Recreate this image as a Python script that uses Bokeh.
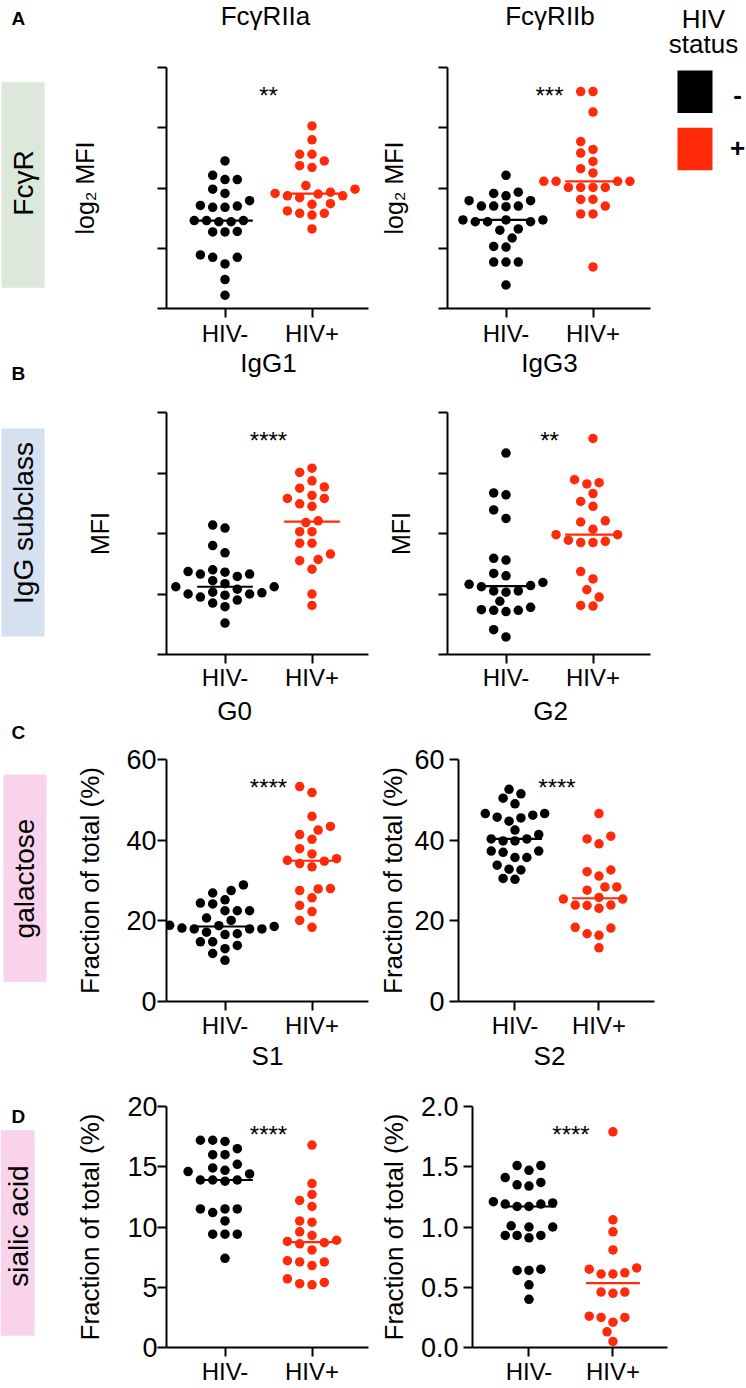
import numpy as np
from bokeh.plotting import figure
from bokeh.models import Range1d, FixedTicker, NumeralTickFormatter
from bokeh.layouts import row, column
from bokeh.embed import file_html
from bokeh.resources import INLINE
from bokeh.core.properties import value

FONT = "Liberation Sans"
GROUPS = ["HIV-", "HIV+"]
GROUP_COLORS = ["#000000", "#ff2a0a"]

# ---------------- data ----------------
fcgr2a_neg = [2.45, 2.21, 2.14, 2.14, 1.98, 1.91, 1.79, 1.71, 1.70, 1.68, 1.68, 1.46, 1.46,
              1.46, 1.44, 1.44, 1.28, 1.27, 1.27, 0.89, 0.85, 0.85, 0.74, 0.48, 0.22]
fcgr2a_pos = [3.03, 2.80, 2.56, 2.56, 2.45, 2.37, 2.34, 2.04, 1.98, 1.93, 1.91, 1.90, 1.87,
              1.87, 1.84, 1.74, 1.73, 1.62, 1.58, 1.58, 1.55, 1.32]
fcgr2b_neg = [2.21, 1.93, 1.91, 1.87, 1.79, 1.79, 1.70, 1.70, 1.70, 1.69, 1.47, 1.47, 1.47,
              1.44, 1.44, 1.44, 1.32, 1.30, 1.17, 1.03, 1.02, 0.77, 0.77, 0.77, 0.39]
fcgr2b_pos = [3.60, 3.60, 3.26, 2.77, 2.64, 2.58, 2.44, 2.32, 2.25, 2.11, 2.11, 2.11, 2.11,
              2.01, 2.01, 2.01, 2.01, 1.81, 1.81, 1.70, 1.57, 1.57, 0.69]
igg1_neg = [2.14, 2.09, 1.80, 1.68, 1.40, 1.37, 1.36, 1.33, 1.33, 1.29, 1.22, 1.17, 1.12,
            1.12, 1.08, 1.03, 1.02, 1.00, 1.00, 0.98, 0.95, 0.90, 0.85, 0.79, 0.52]
igg1_pos = [3.08, 3.01, 2.87, 2.77, 2.75, 2.63, 2.58, 2.58, 2.49, 2.45, 2.21, 2.18, 2.03,
            2.03, 1.84, 1.84, 1.66, 1.57, 1.55, 1.41, 1.00, 0.81]
igg3_neg = [3.33, 2.67, 2.64, 2.39, 2.25, 1.59, 1.56, 1.34, 1.30, 1.19, 1.16, 1.14, 1.12,
            1.05, 1.05, 1.03, 0.88, 0.78, 0.74, 0.73, 0.73, 0.71, 0.41, 0.29]
igg3_pos = [3.57, 2.89, 2.84, 2.82, 2.66, 2.53, 2.45, 2.21, 2.19, 2.07, 1.98, 1.98, 1.89,
            1.87, 1.85, 1.85, 1.37, 1.25, 1.07, 0.95, 0.81, 0.80]
g0_neg = [28.9, 27.5, 26.9, 25.2, 24.4, 24.2, 22.5, 22.5, 22.5, 20.7, 20.1, 18.9, 18.8, 18.6,
          18.2, 18.0, 18.0, 18.0, 17.2, 16.8, 16.6, 14.8, 14.8, 13.9, 13.1, 11.9, 10.2]
g0_pos = [53.3, 51.8, 45.9, 43.4, 42.5, 41.4, 40.2, 37.9, 36.6, 35.4, 35.0, 34.8, 34.2, 33.4,
          28.0, 27.9, 27.5, 25.7, 23.8, 22.3, 20.1, 18.4]
g2_neg = [52.6, 51.5, 50.4, 49.0, 46.6, 46.6, 46.2, 45.7, 45.5, 44.7, 42.5, 41.4, 40.3, 40.3,
          39.8, 39.8, 37.3, 37.3, 37.0, 35.7, 35.7, 33.8, 32.8, 32.6, 30.5, 30.3]
g2_pos = [46.6, 41.0, 40.3, 39.1, 32.6, 32.2, 31.1, 28.4, 28.4, 27.6, 25.8, 25.4, 25.4, 23.9,
          23.9, 23.8, 23.1, 18.4, 18.2, 16.8, 16.4, 13.3]
s1_neg = [17.2, 17.2, 17.1, 16.5, 16.0, 16.0, 15.2, 14.9, 14.7, 14.6, 14.4, 13.9, 13.9, 13.9,
          13.8, 11.5, 11.5, 11.5, 11.2, 10.5, 9.4, 9.4, 9.4, 7.4]
s1_pos = [16.8, 13.6, 12.7, 12.2, 11.7, 10.5, 10.4, 9.6, 9.3, 8.9, 8.8, 8.7, 8.6, 8.1, 7.2,
          7.1, 7.1, 6.8, 5.7, 5.4, 5.3, 5.2]
s2_neg = [1.51, 1.51, 1.47, 1.41, 1.37, 1.35, 1.34, 1.21, 1.20, 1.19, 1.19, 1.17, 1.17, 1.01,
          1.00, 1.00, 0.93, 0.93, 0.93, 0.91, 0.65, 0.64, 0.64, 0.52, 0.40]
s2_pos = [1.79, 1.06, 0.96, 0.81, 0.66, 0.65, 0.62, 0.61, 0.61, 0.46, 0.46, 0.45, 0.26, 0.25,
          0.25, 0.21, 0.13, 0.05]

TITLES = ["FcγRIIa", "FcγRIIb", "IgG1", "IgG3", "G0", "G2", "S1", "S2"]
STARS = ["**", "***", "****", "**", "****", "****", "****", "****"]
ROW_LABELS = ["FcγR", "IgG subclass", "galactose", "sialic acid"]
ROW_COLORS = ["#dce8da", "#d5e1f1", "#f9d3eb", "#f9d3eb"]
PANEL_LETTERS = ["A", "B", "C", "D"]
YLABELS = ["log₂ MFI", "MFI", "Fraction of total (%)", "Fraction of total (%)"]
YTICKS_LOG = [0, 1, 2, 3, 4]
YTICKS_G = [0, 20, 40, 60]
YTICKS_S1 = [0, 5, 10, 15, 20]
YTICKS_S2 = [0, 0.5, 1.0, 1.5, 2.0]
LEGEND_TITLE = ["HIV", "status"]
LEGEND_SIGNS = ["-", "+"]

# ---------------- helpers ----------------
PX_PER_X = 87.0
DOT = 9.5
PAGE_W = 746
MID = 0.3465  # centre of the em box above the baseline (Liberation Sans)


def swarm_offsets(vals, px_per_y, step=12.3, min_dist=10.6):
    vals = np.asarray(vals, float)
    order = np.argsort(vals, kind="stable")
    cands = [0.0]
    for k in range(1, 16):
        cands += [-k * step / 2, k * step / 2]
    placed = []
    off = np.zeros(len(vals))
    for i in order:
        y = vals[i] * px_per_y
        for c in cands:
            if all((c - px) ** 2 + (y - py) ** 2 >= min_dist ** 2 for px, py in placed):
                off[i] = c
                placed.append((c, y))
                break
    return off / PX_PER_X


def make_panel(neg, pos, ylim, yticks, ylabel, stars, geo, axp, fmt=None):
    left, fw, right, top, fh, bottom = geo
    s1, s2, xstand, hide, ylab_fs = axp
    x0 = 1 - 58.5 / PX_PER_X
    p = figure(width=left + fw + right, height=top + fh + bottom,
               x_range=Range1d(x0, x0 + fw / PX_PER_X), y_range=Range1d(*ylim),
               min_border_left=left, min_border_right=right,
               min_border_top=top, min_border_bottom=bottom,
               toolbar_location=None, output_backend="svg", title=None,
               outline_line_color=None, background_fill_color="white",
               border_fill_color="white")
    p.grid.visible = False
    px_per_y = fh / (ylim[1] - ylim[0])
    for gi, (vals, col) in enumerate(zip([neg, pos], GROUP_COLORS)):
        xs = gi + 1 + swarm_offsets(vals, px_per_y)
        p.scatter(xs, vals, size=DOT, fill_color=col, line_color=None)
        med = float(np.median(vals))
        p.segment(x0=[gi + 1 - 0.32], x1=[gi + 1 + 0.32], y0=[med], y1=[med],
                  line_color=col, line_width=2.2)
    ys = ylim[1] - (14 + 14) / px_per_y
    p.text(x=[1.5], y=[ys], text=[stars], text_align="center", text_baseline="alphabetic",
           text_font=value(FONT), text_font_size="24px", text_color="black")
    xa = p.xaxis[0]
    ya = p.yaxis[0]
    xa.ticker = FixedTicker(ticks=[1, 2])
    xa.major_label_overrides = {1: GROUPS[0], 2: GROUPS[1]}
    ya.ticker = FixedTicker(ticks=yticks)
    for a in (xa, ya):
        a.axis_line_width = 2
        a.axis_line_color = "black"
        a.major_tick_line_width = 2
        a.major_tick_line_color = "black"
        a.major_tick_out = 9
        a.major_tick_in = 0
        a.minor_tick_line_color = None
        a.major_label_text_font = FONT
        a.major_label_text_color = "black"
    xa.major_label_text_font_size = "24px"
    xa.major_label_standoff = xstand
    ya.axis_label = ylabel
    ya.axis_label_text_font = FONT
    ya.axis_label_text_font_style = "normal"
    ya.axis_label_text_font_size = ylab_fs
    ya.axis_label_text_color = "black"
    ya.axis_label_standoff = s2
    ya.major_label_standoff = s1
    ya.major_label_text_font_size = "27px"
    if hide:
        ya.major_label_overrides = {t: "" for t in yticks}
    if fmt:
        ya.formatter = NumeralTickFormatter(format=fmt)
    return p


def base_fig(x0, x1, ytop, ybot, w, h, bt=0, bb=0):
    p = figure(width=w, height=h,
               x_range=Range1d(x0, x1), y_range=Range1d(ybot, ytop),
               min_border_left=0, min_border_right=0,
               min_border_top=bt, min_border_bottom=bb,
               x_axis_location=None, y_axis_location=None,
               toolbar_location=None, output_backend="svg", title=None,
               outline_line_color=None, background_fill_color="white",
               border_fill_color="white")
    p.grid.visible = False
    return p


def header_fig(ytop, ybot):
    return base_fig(0, PAGE_W, ytop, ybot, PAGE_W, ybot - ytop)


def put_text(p, x, base_y, t, size_px, align="center", bold=False, angle=0, mid=None):
    # base_y is the text baseline; the glyph is anchored at the centre of its em box
    y = mid if mid is not None else base_y - MID * size_px
    p.text(x=[x], y=[y], text=[t], text_align=align, text_baseline="middle",
           text_font=value(FONT), text_font_size=f"{size_px}px",
           text_font_style="bold" if bold else "normal", text_color="black", angle=angle)


# ---------------- geometry (page pixel coordinates) ----------------
STRIP_W = 60
GL = (106, 202, 7)
ROWS = [  # top border, frame height, bottom border
    (3, 244, 38),
    (3, 243, 38),
    (14, 244, 38),
    (14, 244, 37),
]
ROWS_TOP = [64, 409, 745, 1092]
RIGHT_GEO = [(72, 203, 10), (72, 203, 10), (76, 203, 6), (90, 202, 4)]
HEADERS = [(0, 64), (349, 409), (693, 745), (1041, 1092)]


def rowgeo(i, side):
    t, fh, b = ROWS[i]
    l, fw, r = GL if side == 0 else RIGHT_GEO[i]
    return (l, fw, r, t, fh, b)


def row_aux(x0, x1, i):
    t, fh, b = ROWS[i]
    ft = ROWS_TOP[i] + t
    return base_fig(x0, x1, ft, ft + fh, x1 - x0, t + fh + b, bt=t, bb=b)


# ---------------- headers ----------------
hA = header_fig(*HEADERS[0])
put_text(hA, 11, 25, PANEL_LETTERS[0], 19, align="left", bold=True)
put_text(hA, 265, 25, TITLES[0], 26)
put_text(hA, 549.5, 25, TITLES[1], 26)
put_text(hA, 703, 28, LEGEND_TITLE[0], 26)
put_text(hA, 703, 53, LEGEND_TITLE[1], 26)

hB = header_fig(*HEADERS[1])
put_text(hB, 11, 380, PANEL_LETTERS[1], 19, align="left", bold=True)
put_text(hB, 268, 372, TITLES[2], 26)
put_text(hB, 549, 372, TITLES[3], 26)

hC = header_fig(*HEADERS[2])
put_text(hC, 11, 739, PANEL_LETTERS[2], 19, align="left", bold=True)
put_text(hC, 234, 720, TITLES[4], 26)
put_text(hC, 550, 720, TITLES[5], 26)

hD = header_fig(*HEADERS[3])
put_text(hD, 267, 1065, TITLES[6], 26)
put_text(hD, 549, 1065, TITLES[7], 26)

# ---------------- panels ----------------
pAL = make_panel(fcgr2a_neg, fcgr2a_pos, (0, 4), YTICKS_LOG, YLABELS[0], STARS[0],
                 rowgeo(0, 0), (0, 59, 2, True, "25px"))
pAR = make_panel(fcgr2b_neg, fcgr2b_pos, (0, 4), YTICKS_LOG, YLABELS[0], STARS[1],
                 rowgeo(0, 1), (0, 31, 2, True, "25px"))
pBL = make_panel(igg1_neg, igg1_pos, (0, 4), YTICKS_LOG, YLABELS[1], STARS[2],
                 rowgeo(1, 0), (0, 44, 0, True, "25px"))
pBR = make_panel(igg3_neg, igg3_pos, (0, 4), YTICKS_LOG, YLABELS[1], STARS[3],
                 rowgeo(1, 1), (0, 24, 0, True, "25px"))
pCL = make_panel(g0_neg, g0_pos, (0, 60), YTICKS_G, YLABELS[2], STARS[4],
                 rowgeo(2, 0), (1, 18, 1, False, "26px"))
pCR = make_panel(g2_neg, g2_pos, (0, 60), YTICKS_G, YLABELS[2], STARS[5],
                 rowgeo(2, 1), (5, 3, 1, False, "26px"))
pDL = make_panel(s1_neg, s1_pos, (0, 20), YTICKS_S1, YLABELS[3], STARS[6],
                 rowgeo(3, 0), (0, 19, 1, False, "26px"))
pDR = make_panel(s2_neg, s2_pos, (0, 2), YTICKS_S2, YLABELS[3], STARS[7],
                 rowgeo(3, 1), (5, 9, 1, False, "26px"), fmt="0.0")

# ---------------- strips ----------------
STRIP_BOX = [(1, 44, 82, 290), (1, 44, 428, 637), (3, 46, 774, 983), (0, 34, 1130, 1338)]
STRIP_TXT = [(23, 184), (23, 523), (24, 879), (18, 1227)]
strips = []
for i in range(4):
    s = row_aux(0, STRIP_W, i)
    l, r, t, b = STRIP_BOX[i]
    s.quad(left=[l], right=[r], top=[t], bottom=[b], fill_color=ROW_COLORS[i], line_color=None)
    put_text(s, STRIP_TXT[i][0], None, ROW_LABELS[i], 28, angle=np.pi / 2, mid=STRIP_TXT[i][1])
    strips.append(s)
# panel letter D sits just inside the top of the strip frame
put_text(strips[3], 11, 1123, PANEL_LETTERS[3], 19, align="left", bold=True)

# ---------------- legend & fillers ----------------
leg = row_aux(660, PAGE_W, 0)
leg.quad(left=[677, 677], right=[712, 712], top=[70, 128], bottom=[113, 171],
         fill_color=GROUP_COLORS, line_color=None)
put_text(leg, 737, None, LEGEND_SIGNS[0], 26, bold=True, mid=95)
put_text(leg, 737, None, LEGEND_SIGNS[1], 26, bold=True, mid=149)

fillB = row_aux(660, PAGE_W, 1)
fillC = row_aux(660, PAGE_W, 2)
fillD = row_aux(671, PAGE_W, 3)

layout = column(
    hA,
    row(strips[0], pAL, pAR, leg),
    hB,
    row(strips[1], pBL, pBR, fillB),
    hC,
    row(strips[2], pCL, pCR, fillC),
    hD,
    row(strips[3], pDL, pDR, fillD),
)

open("out.html", "w").write(file_html(layout, INLINE))
